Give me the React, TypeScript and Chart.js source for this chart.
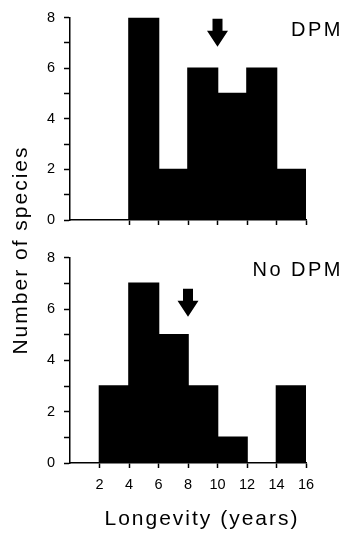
import React, { useEffect, useRef } from "react";
import { Chart, registerables } from "chart.js";

Chart.register(...registerables);

// ---- data ----
const binCenters = [1, 3, 5, 7, 9, 11, 13, 15];
const dpmCounts = [0, 0, 8, 2, 6, 5, 6, 2];
const noDpmCounts = [0, 3, 7, 5, 3, 1, 0, 3];
const panelLabels = ["DPM", "No DPM"];
const arrowX = [10, 8];
const arrowTipY = [6.85, 5.7];
const yAxisTitle = "Number of species";
const xAxisTitle = "Longevity (years)";

const FAMILY = "'Liberation Sans', Arial, Helvetica, sans-serif";

const annotPlugin = {
  id: "annot",
  afterDatasetsDraw(chart: any, _args: any, o: any) {
    const { ctx, chartArea } = chart;
    const xs = chart.scales.x;
    const ys = chart.scales.y;
    const ax = xs.getPixelForValue(o.arrowX);
    const tip = ys.getPixelForValue(o.arrowTip);
    ctx.save();
    ctx.fillStyle = "#000";
    ctx.beginPath();
    ctx.moveTo(ax - 5, tip - 28);
    ctx.lineTo(ax + 5, tip - 28);
    ctx.lineTo(ax + 5, tip - 16);
    ctx.lineTo(ax + 10.5, tip - 16);
    ctx.lineTo(ax, tip);
    ctx.lineTo(ax - 10.5, tip - 16);
    ctx.lineTo(ax - 5, tip - 16);
    ctx.closePath();
    ctx.fill();
    ctx.font = `20px ${FAMILY}`;
    try {
      (ctx as any).letterSpacing = "2.5px";
    } catch (e) {}
    ctx.textAlign = "right";
    ctx.textBaseline = "middle";
    ctx.fillStyle = "#000";
    ctx.fillText(o.label, chartArea.right + 37, chartArea.top + 13);
    ctx.restore();
  },
};

function makeChart(
  canvas: HTMLCanvasElement,
  counts: number[],
  label: string,
  ax: number,
  tipY: number,
  showXLabels: boolean,
  firstTick: number,
  padTop: number,
  xHeight: number
) {
  return new Chart(canvas, {
    type: "bar",
    data: {
      datasets: [
        {
          data: binCenters.map((c, i) => ({ x: c, y: counts[i] })),
          backgroundColor: "#000",
          borderWidth: 0,
          inflateAmount: 0.8,
          barPercentage: 1,
          categoryPercentage: 1,
        } as any,
      ],
    },
    plugins: [annotPlugin as any],
    options: {
      animation: false,
      responsive: false,
      devicePixelRatio: 1,
      layout: { padding: { top: padTop, right: 40, left: 0, bottom: 0 } },
      plugins: {
        legend: { display: false },
        tooltip: { enabled: false },
        annot: { arrowX: ax, arrowTip: tipY, label },
      } as any,
      scales: {
        x: {
          type: "linear",
          min: 0,
          max: 16,
          offset: false,
          ticks: {
            stepSize: 2,
            autoSkip: false,
            maxRotation: 0,
            color: "#000",
            padding: 8,
            font: { size: 14.5, family: FAMILY },
            callback: (v: any) => (showXLabels && v > 0 ? String(v) : ""),
          },
          grid: {
            offset: false,
            drawOnChartArea: false,
            drawTicks: true,
            tickLength: 5,
            tickWidth: 1.5,
            tickColor: (c: any) =>
              c.tick && c.tick.value >= firstTick ? "#000" : "rgba(0,0,0,0)",
          },
          border: { display: true, color: "#000", width: 1.5 },
          afterFit: (s: any) => {
            s.height = xHeight;
          },
        } as any,
        y: {
          min: 0,
          max: 8,
          ticks: {
            stepSize: 1,
            autoSkip: false,
            color: "#000",
            padding: 9,
            font: { size: 14.5, family: FAMILY },
            callback: (v: any) => (v % 2 === 0 ? String(v) : ""),
          },
          grid: {
            drawOnChartArea: false,
            drawTicks: true,
            tickLength: 6,
            tickWidth: 1.5,
            tickColor: "#000",
          },
          border: { display: true, color: "#000", width: 1.5 },
          afterFit: (s: any) => {
            s.width = 70;
          },
        } as any,
      },
    },
  });
}

export default function App() {
  const topRef = useRef<HTMLCanvasElement>(null);
  const botRef = useRef<HTMLCanvasElement>(null);

  useEffect(() => {
    const c1 = makeChart(topRef.current!, dpmCounts, panelLabels[0], arrowX[0], arrowTipY[0], false, 4, 13, 20);
    const c2 = makeChart(botRef.current!, noDpmCounts, panelLabels[1], arrowX[1], arrowTipY[1], true, 2, 14, 72);
    return () => {
      c1.destroy();
      c2.destroy();
    };
  }, []);

  return (
    <div
      style={{
        position: "fixed",
        left: 0,
        top: 0,
        width: 346,
        height: 535,
        background: "#fff",
        overflow: "hidden",
      }}
    >
      <canvas
        ref={topRef}
        width={346}
        height={240}
        style={{ position: "absolute", left: 0, top: 0, width: 346, height: 240 }}
      />
      <canvas
        ref={botRef}
        width={346}
        height={295}
        style={{ position: "absolute", left: 0, top: 240, width: 346, height: 295 }}
      />
      <div
        style={{
          position: "absolute",
          left: 20 - 130,
          top: 250 - 12,
          width: 260,
          height: 24,
          lineHeight: "24px",
          textAlign: "center",
          transform: "rotate(-90deg)",
          fontFamily: FAMILY,
          fontSize: 21,
          letterSpacing: "2px",
          color: "#000",
          whiteSpace: "nowrap",
        }}
      >
        {yAxisTitle}
      </div>
      <div
        style={{
          position: "absolute",
          left: 202 - 130,
          top: 506,
          width: 260,
          height: 24,
          lineHeight: "24px",
          textAlign: "center",
          fontFamily: FAMILY,
          fontSize: 21,
          letterSpacing: "2px",
          color: "#000",
          whiteSpace: "nowrap",
        }}
      >
        {xAxisTitle}
      </div>
    </div>
  );
}
